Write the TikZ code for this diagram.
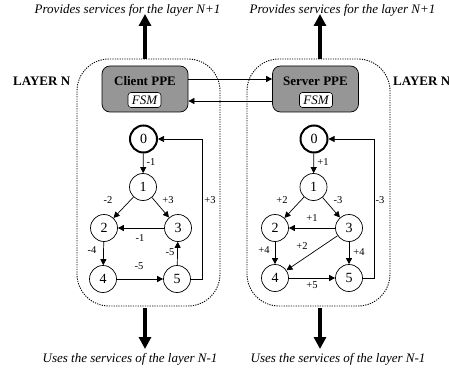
\documentclass[tikz,border=0pt]{standalone}
\usepackage{fontspec}
\setmainfont{Liberation Serif}
\usetikzlibrary{arrows.meta}
\definecolor{ppegray}{RGB}{150,150,150}
\begin{document}
\begin{tikzpicture}[x=1pt,y=-1pt,
  layerbox/.style={draw, dash pattern=on 1.2pt off 1.2pt, line width=0.9pt, rounded corners=32pt, minimum width=143pt, minimum height=247pt, inner sep=0pt},
  ppe/.style={draw, fill=ppegray, rounded corners=8pt, minimum width=86pt, minimum height=46pt, line width=0.7pt, inner sep=0pt},
  ppetext/.style={font=\fontsize{13}{13}\selectfont\bfseries, inner sep=0pt},
  fsm/.style={draw, fill=white, rounded corners=3pt, font=\fontsize{13}{13}\selectfont\itshape, minimum width=33pt, minimum height=15pt, inner sep=0pt, line width=0.6pt},
  st/.style={circle, draw, line width=0.7pt, minimum size=27pt, inner sep=0pt, font=\fontsize{14}{14}\selectfont},
  st0/.style={st, line width=2pt},
  lbl/.style={font=\fontsize{10.5}{10.5}\selectfont, inner sep=0pt},
  edg/.style={line width=0.7pt, -{Triangle[width=6pt,length=6pt]}},
  big/.style={line width=4pt, -{Triangle[width=12pt,length=12pt]}},
  captxt/.style={font=\fontsize{13}{13}\selectfont\itshape, inner sep=0pt},
  layerlbl/.style={font=\fontsize{13}{13}\selectfont\bfseries, inner sep=0pt}
]
\useasboundingbox (0,0) rectangle (449,374);

% layer boxes
\node[layerbox] (lbox) at (148.5,182.5) {};
\node[layerbox] (rbox) at (318.5,182.5) {};

% labels
\node[layerlbl, anchor=west] (llayer) at (13,81) {LAYER N};
\node[layerlbl, anchor=west] (rlayer) at (393,81) {LAYER N};

% PPE boxes
\node[ppe] (cppe) at (145,89) {};
\node[ppetext] (ctext) at (145,81) {Client PPE};
\node[fsm] (cfsm) at (144.5,100) {FSM};
\node[ppe] (sppe) at (315.5,89) {};
\node[ppetext] (stext) at (315.5,81) {Server PPE};
\node[fsm] (sfsm) at (316,100) {FSM};

\draw[edg] ([yshift=10pt]cppe.east) -- ([yshift=10pt]sppe.west);
\draw[edg] ([yshift=-12pt]sppe.west) -- ([yshift=-12pt]cppe.east);

% captions
\node[captxt] (ctop) at (127.5,10) {Provides services for the layer N+1};
\node[captxt] (stop) at (342.5,10) {Provides services for the layer N+1};
\node[captxt] (cbot) at (130,359) {Uses the services of the layer N-1};
\node[captxt] (sbot) at (338,359) {Uses the services of the layer N-1};

\coordinate (ctip) at (145,14);
\coordinate (stip) at (320,14);
\coordinate (cbtip) at (145,349);
\coordinate (sbtip) at (320,349);
\draw[big] (lbox.north -| ctip) -- (ctip);
\draw[big] (rbox.north -| stip) -- (stip);
\draw[big] ([yshift=-2pt]lbox.south -| cbtip) -- (cbtip);
\draw[big] ([yshift=-2pt]rbox.south -| sbtip) -- (sbtip);

% left FSM
\node[st0] (l0) at (143.5,139) {0};
\node[st]  (l1) at (143,187) {1};
\node[st]  (l2) at (104,228) {2};
\node[st]  (l3) at (178,228) {3};
\node[st]  (l4) at (103,279) {4};
\node[st]  (l5) at (177,279) {5};
\coordinate (lc) at (202,0);
\draw[edg] (l0) -- (l1);
\draw[edg] (l1) -- (l2);
\draw[edg] (l1) -- (l3);
\draw[edg] (l3) -- (l2);
\draw[edg] (l2) -- (l4);
\draw[edg] (l5) -- (l3);
\draw[edg] (l4) -- (l5);
\draw[edg] (l5.east) -- (l5.east -| lc) -- (l0.east -| lc) -- (l0.east);
\node[lbl] (la) at (151,162) {-1};
\node[lbl] (lb) at (108,200) {-2};
\node[lbl] (lcc) at (168,200) {+3};
\node[lbl] (ld) at (210,200) {+3};
\node[lbl] (le) at (140,238) {-1};
\node[lbl] (lf) at (92,250) {-4};
\node[lbl] (lg) at (170,252) {-5};
\node[lbl] (lh) at (139,266) {-5};

% right FSM
\node[st0] (r0) at (314,139) {0};
\node[st]  (r1) at (313.5,187) {1};
\node[st]  (r2) at (275,228) {2};
\node[st]  (r3) at (349,228) {3};
\node[st]  (r4) at (275,278) {4};
\node[st]  (r5) at (349,278) {5};
\coordinate (rc) at (374,0);
\draw[edg] (r0) -- (r1);
\draw[edg] (r1) -- (r2);
\draw[edg] (r1) -- (r3);
\draw[edg] (r3) -- (r2);
\draw[edg] (r2) -- (r4);
\draw[edg] (r3) -- (r4);
\draw[edg] (r3) -- (r5);
\draw[edg] (r4) -- (r5);
\draw[edg] (r5.east) -- (r5.east -| rc) -- (r0.east -| rc) -- (r0.east);
\node[lbl] (ra) at (323,162) {+1};
\node[lbl] (rb) at (282,200) {+2};
\node[lbl] (rcc) at (338,200) {-3};
\node[lbl] (rd) at (380,200) {-3};
\node[lbl] (re) at (312,218) {+1};
\node[lbl] (rf) at (302,246) {+2};
\node[lbl] (rg) at (264,250) {+4};
\node[lbl] (rh) at (359,252) {+4};
\node[lbl] (ri) at (312,285) {+5};
\end{tikzpicture}
\end{document}
